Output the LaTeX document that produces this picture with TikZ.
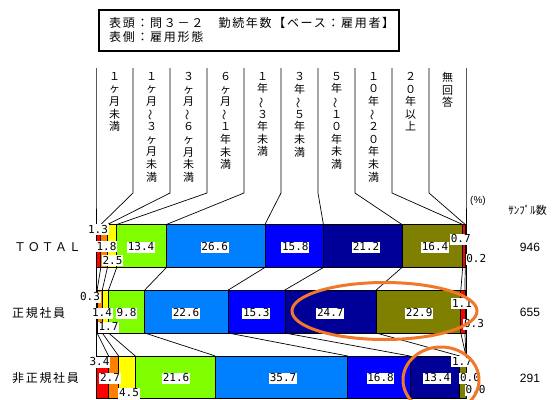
\documentclass[tikz,border=0pt]{standalone}
\usepackage{fontspec}
\newfontfamily\jp{Noto Sans CJK JP}
\newfontfamily\jpls[LetterSpace=14]{Noto Sans CJK JP}
\newfontfamily\nummono{DejaVu Sans Mono}
\newfontfamily\numsans{Liberation Sans}
\definecolor{c1}{HTML}{FF0000}
\definecolor{c2}{HTML}{FF8000}
\definecolor{c3}{HTML}{FFFF00}
\definecolor{c4}{HTML}{80FF00}
\definecolor{c5}{HTML}{0080FF}
\definecolor{c6}{HTML}{0000FF}
\definecolor{c7}{HTML}{000099}
\definecolor{c8}{HTML}{808000}
\definecolor{c9}{HTML}{FF0000}
\definecolor{c10}{HTML}{FFFFFF}
\definecolor{hilite}{HTML}{F07828}
\newcommand\vtil{\rotatebox[origin=c]{90}{～}}
\newcommand\barrow[5]{%
  \gdef\cumv{0}%
  \coordinate (#1t0) at (96,#2);
  \coordinate (#1b0) at (96,#3);
  \foreach \v [count=\i] in {#5} {
    \pgfmathsetmacro\xa{96+\cumv/#4*370}
    \pgfmathsetmacro\newc{\cumv+\v}
    \global\let\cumv\newc
    \pgfmathsetmacro\xb{96+\cumv/#4*370}
    \filldraw[fill=c\i, draw=black, line width=0.7pt] (\xa,#2) rectangle (\xb,#3);
    \coordinate (#1t\i) at (\xb,#2);
    \coordinate (#1b\i) at (\xb,#3);
  }
}
\begin{document}
\begin{tikzpicture}[x=1pt,y=-1pt,
  thinline/.style={draw=black, line width=0.7pt},
  lab/.style={fill=white, inner xsep=0.6pt, inner ysep=1pt, text height=8pt, text depth=1pt,
    font=\nummono\fontsize{11}{12}\selectfont},
  colhead/.style={align=center, inner sep=0pt, anchor=north, font=\jp\fontsize{11}{12.6}\selectfont},
  rowlab/.style={anchor=west, inner sep=0pt, font=\jpls\fontsize{12}{12}\selectfont},
  samp/.style={inner sep=0pt, font=\numsans\fontsize{12}{12}\selectfont},
  ring/.style={draw=hilite, line width=3pt}]
\useasboundingbox (0,0) rectangle (553,399);
\clip (0,0) rectangle (553,399);

% title box
\draw[line width=2pt] (99,10) rectangle (399,51);
\node (t1) [anchor=west, inner sep=0pt, font=\jpls\fontsize{12}{12}\selectfont] at (109,23.3) {表頭：問３－２　勤続年数【ベース：雇用者】};
\node (t2) [anchor=west, inner sep=0pt, font=\jpls\fontsize{12}{12}\selectfont] at (109,36.5) {表側：雇用形態};

% bars
\barrow{A}{224.5}{267.5}{99.9}{1.3,1.8,2.5,13.4,26.6,15.8,21.2,16.4,0.7,0.2}
\barrow{B}{290}{333}{100.1}{0.3,1.4,1.7,9.8,22.6,15.3,24.7,22.9,1.1,0.3}
\barrow{C}{356}{398.5}{99.8}{3.4,2.7,4.5,21.6,35.7,16.8,13.4,1.7,0.0,0.0}

% header dividers and leader lines
\foreach \i in {0,...,10} {
  \pgfmathsetmacro\hx{96+37*\i}
  \coordinate (h\i) at (\hx,68);
  \coordinate (hb\i) at (\hx,193);
}
\foreach \i in {0,...,10} {
  \draw[thinline] (h\i) -- (hb\i) -- (At\i);
  \draw[thinline] (Ab\i) -- (Bt\i);
  \draw[thinline] (Bb\i) -- (Ct\i);
}

% column headings
\node (k1) [colhead] at (114.5,72) {１\\ヶ\\月\\未\\満};
\node (k2) [colhead] at (151.5,72) {１\\ヶ\\月\\\vtil\\３\\ヶ\\月\\未\\満};
\node (k3) [colhead] at (188.5,72) {３\\ヶ\\月\\\vtil\\６\\ヶ\\月\\未\\満};
\node (k4) [colhead] at (225.5,72) {６\\ヶ\\月\\\vtil\\１\\年\\未\\満};
\node (k5) [colhead] at (262.5,72) {１\\年\\\vtil\\３\\年\\未\\満};
\node (k6) [colhead] at (299.5,72) {３\\年\\\vtil\\５\\年\\未\\満};
\node (k7) [colhead] at (336.5,72) {５\\年\\\vtil\\１\\０\\年\\未\\満};
\node (k8) [colhead] at (373.5,72) {１\\０\\年\\\vtil\\２\\０\\年\\未\\満};
\node (k9) [colhead] at (410.5,72) {２\\０\\年\\以\\上};
\node (k10) [colhead] at (447.5,72) {無\\回\\答};

% row labels
\node (r1) [rowlab] at (14,247) {ＴＯＴＡＬ};
\node (r2) [rowlab] at (12,312.7) {正規社員};
\node (r3) [rowlab] at (12,378) {非正規社員};

% right side
\node (pct) [inner sep=0pt, font=\numsans\fontsize{10}{10}\selectfont] at (478,200.5) {(\%)};
\node (sh) [inner sep=0pt, font=\jp\fontsize{11}{11}\selectfont] at (527.5,210.5) {ｻﾝﾌﾟﾙ数};
\node (s1) [samp] at (530,247) {946};
\node (s2) [samp] at (530,312.7) {655};
\node (s3) [samp] at (530,378) {291};

% data labels row 1
\node (a1) [lab] at (98,229.5) {1.3};
\node (a2) [lab] at (106.5,246.5) {1.8};
\node (a3) [lab] at (112.5,260.5) {2.5};
\node (a4) [lab] at (141,247) {13.4};
\node (a5) [lab] at (214.7,247) {26.6};
\node (a6) [lab] at (295.3,247) {15.8};
\node (a7) [lab] at (366,247) {21.2};
\node (a8) [lab] at (435,247) {16.4};
\node (a9) [lab] at (460.8,239) {0.7};
\node (a10) [lab] at (476.3,259) {0.2};
% row 2
\node (b1) [lab] at (90,297) {0.3};
\node (b2) [lab] at (102,313) {1.4};
\node (b4) [lab] at (126.5,313) {9.8};
\node (b3) [lab] at (108.5,327) {1.7};
\node (b5) [lab] at (186,313) {22.6};
\node (b6) [lab] at (256.3,313) {15.3};
\node (b7) [lab] at (330.3,313) {24.7};
\node (b8) [lab] at (419.2,313) {22.9};
\node (b9) [lab] at (462,303.5) {1.1};
\node (b10) [lab] at (474,324) {0.3};
% row 3
\node (c1) [lab] at (99.5,362) {3.4};
\node (c2) [lab] at (110,378) {2.7};
\node (c3) [lab] at (129,393) {4.5};
\node (c4) [lab] at (176,378) {21.6};
\node (c5) [lab] at (283,378) {35.7};
\node (c6) [lab] at (380.5,378) {16.8};
\node (c7) [lab] at (437,378) {13.4};
\node (c8) [lab] at (462,361.5) {1.7};
\node (c9) [lab] at (470,378) {0.0};
\node (c10) [lab] at (475.5,390) {0.0};

% highlight rings
\draw[ring] (384.5,311) ellipse [x radius=92.5pt, y radius=28.5pt];
\draw[ring] (441,380) ellipse [x radius=38pt, y radius=33pt];
\end{tikzpicture}
\end{document}
